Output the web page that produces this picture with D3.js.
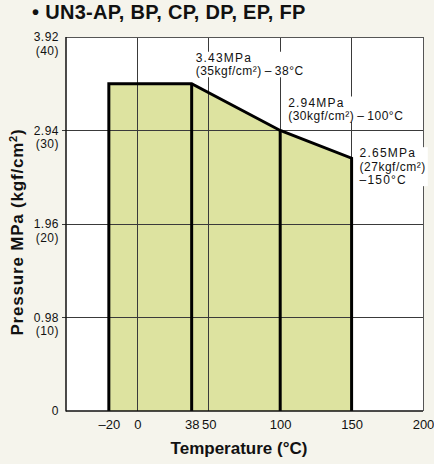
<!DOCTYPE html>
<html>
<head>
<meta charset="utf-8">
<script src="https://cdn.jsdelivr.net/npm/d3@7"></script>
<style>
  html, body { margin: 0; padding: 0; background: #f5f4ec; }
  svg { display: block; font-family: "Liberation Sans", Arial, Helvetica, sans-serif; }
</style>
</head>
<body>
<svg id="chart" width="434" height="464"></svg>
<script>
// ---- data ----
const titleText = "• UN3-AP, BP, CP, DP, EP, FP";
const xTitle = "Temperature (°C)";
const tempTicks = [-20, 0, 38, 50, 100, 150, 200];
const tempTickLabels = ["–20", "0", "38", "50", "100", "150", "200"];
const pressTicks = [0, 0.98, 1.96, 2.94, 3.92];
const pressTickLabels = ["0", "0.98", "1.96", "2.94", "3.92"];
const kgfTickLabels = ["", "(10)", "(20)", "(30)", "(40)"];
const gridTemps = [0, 50, 100, 150];
const gridPress = [0.98, 1.96, 2.94];
const envTemps = [-20, 38, 100, 150];
const envPress = [3.43, 3.43, 2.94, 2.65];
const annTemps = [38, 100, 150];
const annPress = [3.43, 2.94, 2.65];
const annMPa = ["3.43MPa", "2.94MPa", "2.65MPa"];
const annKgf = ["35", "30", "27"];
const annTempLabels = ["38°C", "100°C", "150°C"];

// ---- layout ----
const W = 434, H = 464;
const m = { left: 66, right: 11, top: 37, bottom: 53 };
const svg = d3.select("#chart");
const x = d3.scaleLinear().domain([-50, 200]).range([m.left, W - m.right]);
const y = d3.scaleLinear().domain([0, 3.92]).range([H - m.bottom, m.top]);

// plot background
svg.append("rect")
  .attr("x", x(-50)).attr("y", y(3.92))
  .attr("width", x(200) - x(-50)).attr("height", y(0) - y(3.92))
  .attr("fill", "#ffffff");

// envelope polygon fill
const poly = [[envTemps[0], 0]].concat(envTemps.map((t, i) => [t, envPress[i]]), [[envTemps[envTemps.length - 1], 0]]);
const line = d3.line().x(d => x(d[0])).y(d => y(d[1]));
svg.append("path")
  .attr("d", line(poly) + "Z")
  .attr("fill", "#dde3a0");

// grid
svg.append("g").selectAll("line").data(gridTemps).join("line")
  .attr("x1", d => x(d)).attr("x2", d => x(d))
  .attr("y1", y(3.92)).attr("y2", y(0))
  .attr("stroke", "#3a3a3a").attr("stroke-width", 1).attr("shape-rendering", "crispEdges");
svg.append("g").selectAll("line").data(gridPress).join("line")
  .attr("x1", x(-50) - 4).attr("x2", x(200))
  .attr("y1", d => y(d)).attr("y2", d => y(d))
  .attr("stroke", "#3a3a3a").attr("stroke-width", 1).attr("shape-rendering", "crispEdges");

// frame: top & right thin
svg.append("line").attr("x1", x(-50)).attr("x2", x(200)).attr("y1", y(3.92)).attr("y2", y(3.92))
  .attr("stroke", "#555").attr("stroke-width", 1).attr("shape-rendering", "crispEdges");
svg.append("line").attr("x1", x(200)).attr("x2", x(200)).attr("y1", y(3.92)).attr("y2", y(0))
  .attr("stroke", "#555").attr("stroke-width", 1).attr("shape-rendering", "crispEdges");

// thick internal verticals at envelope breakpoints
svg.append("g").selectAll("line").data(envTemps.slice(1, -1)).join("line")
  .attr("x1", d => x(d)).attr("x2", d => x(d))
  .attr("y1", y(0)).attr("y2", (d, i) => y(envPress[i + 1]))
  .attr("stroke", "#000").attr("stroke-width", 3);

// envelope outline
svg.append("path")
  .attr("d", line(poly))
  .attr("fill", "none").attr("stroke", "#000").attr("stroke-width", 3)
  .attr("stroke-linejoin", "miter");

// axis lines
svg.append("line").attr("x1", x(-50)).attr("x2", x(-50)).attr("y1", y(3.92)).attr("y2", y(0) + 0.5)
  .attr("stroke", "#111").attr("stroke-width", 1.5);
svg.append("line").attr("x1", x(-50)).attr("x2", x(200)).attr("y1", y(0)).attr("y2", y(0))
  .attr("stroke", "#111").attr("stroke-width", 1.5);

// x axis tick labels via d3 axis
const xAxis = d3.axisBottom(x).tickValues(tempTicks).tickSize(0).tickPadding(9)
  .tickFormat((d, i) => tempTickLabels[i]);
const gx = svg.append("g").attr("transform", `translate(0,${y(0)})`).call(xAxis);
gx.select(".domain").remove();
gx.selectAll("text").attr("font-size", 13).attr("fill", "#111").attr("font-family", null);

// y axis tick labels (MPa on the gridline, kgf/cm² value below)
const yAxis = d3.axisLeft(y).tickValues(pressTicks).tickSize(0).tickPadding(7)
  .tickFormat((d, i) => pressTickLabels[i]);
const gy = svg.append("g").attr("transform", `translate(${x(-50)},0)`).call(yAxis);
gy.select(".domain").remove();
gy.selectAll("text").attr("font-size", 12).attr("letter-spacing", 0.5).attr("fill", "#111").attr("font-family", null);
gy.selectAll(".tick").each(function (d, i) {
  if (kgfTickLabels[i]) {
    d3.select(this).append("text")
      .attr("x", -7).attr("y", 3.9 + 13.5)
      .attr("text-anchor", "end").attr("font-size", 12).attr("letter-spacing", 0.5)
      .attr("fill", "#111").text(kgfTickLabels[i]);
  }
});

// annotations (one text element per line, white box behind)
const ann = svg.append("g").attr("font-size", 12).attr("letter-spacing", 1.2).attr("fill", "#111");
const annOffsets = [[4, -22], [8, -24], [8, -1]];
const lh = 13.5;
annTemps.forEach((t, i) => {
  const g = ann.append("g");
  const tx = x(t) + annOffsets[i][0];
  const ty = y(annPress[i]) + annOffsets[i][1];
  g.append("text").attr("x", tx).attr("y", ty).text(annMPa[i]);
  const l2 = "(" + annKgf[i] + "kgf/cm²)" + (i < 2 ? "\u2009–\u2009" + annTempLabels[i] : "");
  g.append("text").attr("x", tx).attr("y", ty + lh).attr("letter-spacing", 0.5).text(l2);
  if (i === 2) {
    g.append("text").attr("x", tx).attr("y", ty + 2 * lh).text("–" + annTempLabels[i]);
  }
  const bb = g.node().getBBox();
  g.insert("rect", "text")
    .attr("x", bb.x - 2).attr("y", bb.y + 1)
    .attr("width", bb.width + 4).attr("height", bb.height - 2)
    .attr("fill", "#ffffff");
});

// title
svg.append("text").attr("x", 32).attr("y", 19)
  .attr("font-size", 20).attr("font-weight", "bold").attr("letter-spacing", 0.3)
  .attr("fill", "#111").text(titleText);

// x title
svg.append("text").attr("x", 239).attr("y", 454).attr("text-anchor", "middle")
  .attr("font-size", 17).attr("font-weight", "bold").attr("fill", "#111").text(xTitle);

// y title
const yt = svg.append("text").attr("transform", "translate(23,232) rotate(-90)")
  .attr("text-anchor", "middle").attr("font-size", 17).attr("font-weight", "bold")
  .attr("letter-spacing", 0.8).attr("fill", "#111");
yt.append("tspan").text("Pressure MPa (kgf/cm");
yt.append("tspan").attr("font-size", 11).attr("dy", -6).text("2");
yt.append("tspan").attr("dy", 6).text(")");
</script>
</body>
</html>
